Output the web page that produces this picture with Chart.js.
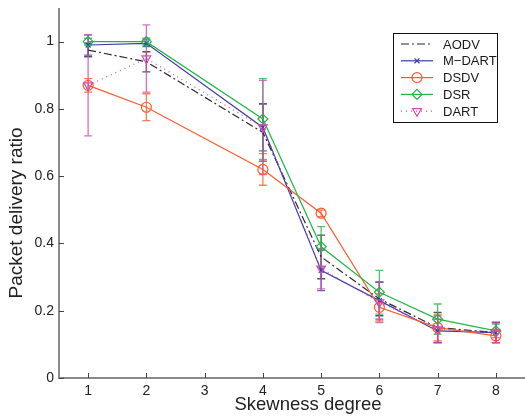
<!DOCTYPE html>
<html>
<head>
<meta charset="utf-8">
<script src="https://cdn.jsdelivr.net/npm/chart.js"></script>
<style>
  body { margin: 0; background: #fff; }
  #wrap { width: 525px; height: 417px; }
</style>
</head>
<body>
<div id="wrap"><canvas id="myChart" width="525" height="417"></canvas></div>
<script>
let skew = [1, 2, 4, 5, 6, 7, 8];
let xTicks = [1, 2, 3, 4, 5, 6, 7, 8];
let yTicks = [0, 0.2, 0.4, 0.6, 0.8, 1];
let names = ['AODV', 'M\u2212DART', 'DSDV', 'DSR', 'DART'];
let xTitle = 'Skewness degree';
let yTitle = 'Packet delivery ratio';

let aodv = [0.975, 0.94, 0.73, 0.36, 0.235, 0.15, 0.135];
let aodvErr = [0.02, 0.03, 0.085, 0.065, 0.05, 0.045, 0.03];
let mdart = [0.99, 0.995, 0.745, 0.32, 0.23, 0.14, 0.135];
let mdartErr = [0.03, 0.01, 0.07, 0.06, 0.055, 0.035, 0.03];
let dsdv = [0.87, 0.805, 0.62, 0.49, 0.21, 0.15, 0.125];
let dsdvErr = [0.02, 0.04, 0.047, 0.01, 0.04, 0.04, 0.02];
let dsr = [1.0, 1.0, 0.77, 0.39, 0.255, 0.175, 0.14];
let dsrErr = [0.01, 0.01, 0.12, 0.06, 0.065, 0.045, 0.02];
let dart = [0.87, 0.95, 0.745, 0.325, 0.225, 0.145, 0.135];
let dartErr = [0.15, 0.1, 0.14, 0.06, 0.06, 0.04, 0.03];

const FONT = '"Liberation Sans", Arial, sans-serif';

function pts(vals) {
    return vals.map((v, i) => ({ x: skew[i], y: v }));
}

function serie(label, vals, errs, color, dash, style, rot, order) {
    return {
        label: label,
        data: pts(vals),
        errs: errs,
        borderColor: color,
        backgroundColor: 'rgba(0,0,0,0)',
        borderWidth: 1.2,
        borderDash: dash,
        pointStyle: style,
        pointRadius: style ? 5 : 0,
        pointRotation: rot,
        pointBorderColor: color,
        pointBorderWidth: 1.2,
        pointBackgroundColor: 'rgba(0,0,0,0)',
        tension: 0,
        clip: false,
        order: order
    };
}

let datasets = [
    serie(names[0], aodv, aodvErr, '#2b2b2b', [8, 3, 2, 3], false, 0, 4),
    serie(names[1], mdart, mdartErr, '#3c3ca8', [], 'cross', 45, 3),
    serie(names[2], dsdv, dsdvErr, '#ff5a2c', [], 'circle', 0, 2),
    serie(names[3], dsr, dsrErr, '#22b845', [], 'rectRot', 0, 1),
    serie(names[4], dart, dartErr, '#d24ab4', [1, 4], 'triangle', 180, 0)
];
datasets[1].pointRadius = 3.5;

// vertical error bars with small caps, under the lines
const errorBars = {
    id: 'errorBars',
    beforeDatasetsDraw(chart) {
        const ctx = chart.ctx;
        const xs = chart.scales.x, ys = chart.scales.y;
        chart.data.datasets.forEach(ds => {
            ctx.save();
            ctx.strokeStyle = ds.borderColor;
            ctx.globalAlpha = 0.8;
            ctx.lineWidth = 1.3;
            ds.data.forEach((p, i) => {
                const e = ds.errs[i];
                const px = xs.getPixelForValue(p.x);
                const top = ys.getPixelForValue(p.y + e);
                const bot = ys.getPixelForValue(p.y - e);
                ctx.beginPath();
                ctx.moveTo(px, top); ctx.lineTo(px, bot);
                ctx.moveTo(px - 4, top); ctx.lineTo(px + 4, top);
                ctx.moveTo(px - 4, bot); ctx.lineTo(px + 4, bot);
                ctx.stroke();
            });
            ctx.restore();
        });
    }
};

// gray axis lines with inward ticks, plus the two axis titles
const axes = {
    id: 'axes',
    afterDraw(chart) {
        const ctx = chart.ctx;
        const a = chart.chartArea;
        const xs = chart.scales.x, ys = chart.scales.y;
        ctx.save();
        ctx.strokeStyle = '#8a8a8a';
        ctx.lineWidth = 2;
        ctx.beginPath();
        ctx.moveTo(a.left, a.top); ctx.lineTo(a.left, a.bottom); ctx.lineTo(a.right, a.bottom);
        ctx.stroke();
        ctx.strokeStyle = '#444';
        ctx.lineWidth = 1;
        ctx.beginPath();
        xTicks.forEach(v => {
            const px = Math.round(xs.getPixelForValue(v)) + 0.5;
            ctx.moveTo(px, a.bottom); ctx.lineTo(px, a.bottom - 5);
        });
        yTicks.forEach(v => {
            const py = Math.round(ys.getPixelForValue(v)) + 0.5;
            ctx.moveTo(a.left, py); ctx.lineTo(a.left + 5, py);
        });
        ctx.stroke();

        ctx.fillStyle = '#222';
        ctx.textAlign = 'center';
        ctx.textBaseline = 'middle';
        ctx.font = '18.5px ' + FONT;
        ctx.fillText(xTitle, 308, 405);
        ctx.translate(17, 213);
        ctx.rotate(-Math.PI / 2);
        ctx.font = '19px ' + FONT;
        ctx.fillText(yTitle, 0, 0);
        ctx.restore();
    }
};

// boxed legend in the upper right of the plot
const boxLegend = {
    id: 'boxLegend',
    afterDraw(chart) {
        const ctx = chart.ctx;
        const bx = 393, by = 33, bw = 104, bh = 89;
        ctx.save();
        ctx.fillStyle = '#fff';
        ctx.fillRect(bx, by, bw, bh);
        ctx.strokeStyle = '#111';
        ctx.lineWidth = 1;
        ctx.strokeRect(bx + 0.5, by + 0.5, bw, bh);
        ctx.font = '13px ' + FONT;
        ctx.textBaseline = 'middle';
        chart.data.datasets.forEach((ds, i) => {
            const y = by + 11 + i * 16.8;
            ctx.strokeStyle = ds.borderColor;
            ctx.lineWidth = 1.2;
            ctx.setLineDash(ds.borderDash);
            ctx.beginPath();
            ctx.moveTo(401, y); ctx.lineTo(433, y);
            ctx.stroke();
            ctx.setLineDash([]);
            if (ds.pointStyle) {
                ctx.fillStyle = 'rgba(0,0,0,0)';
                Chart.helpers.drawPoint(ctx, {
                    pointStyle: ds.pointStyle,
                    radius: ds.pointRadius,
                    rotation: ds.pointRotation,
                    borderWidth: 1.2
                }, 417, y);
            }
            ctx.fillStyle = '#1a1a1a';
            ctx.fillText(ds.label, 443, y + 1);
        });
        ctx.restore();
    }
};

let context = document.getElementById('myChart').getContext('2d');
let chart = new Chart(context, {
    type: 'line',
    data: { datasets: datasets },
    options: {
        responsive: false,
        animation: false,
        layout: { autoPadding: false, padding: { top: 8, right: 0, left: 0, bottom: 0 } },
        plugins: { legend: { display: false }, tooltip: { enabled: false } },
        scales: {
            x: {
                type: 'linear',
                min: 0.5,
                max: 8.5,
                grid: { display: false, drawTicks: false },
                border: { display: false },
                afterBuildTicks: s => { s.ticks = xTicks.map(v => ({ value: v })); },
                afterFit: s => { s.height = 39; s.paddingLeft = 0; s.paddingRight = 0; },
                ticks: { color: '#222', padding: 5, font: { family: FONT, size: 14 } }
            },
            y: {
                min: 0,
                max: 1.1,
                grid: { display: false, drawTicks: false },
                border: { display: false },
                afterBuildTicks: s => { s.ticks = yTicks.map(v => ({ value: v })); },
                afterFit: s => { s.width = 59; s.paddingTop = 0; s.paddingBottom = 0; },
                ticks: {
                    color: '#222', padding: 5, font: { family: FONT, size: 14 },
                    callback: v => String(Math.round(v * 10) / 10)
                }
            }
        }
    },
    plugins: [errorBars, axes, boxLegend]
});
</script>
</body>
</html>
